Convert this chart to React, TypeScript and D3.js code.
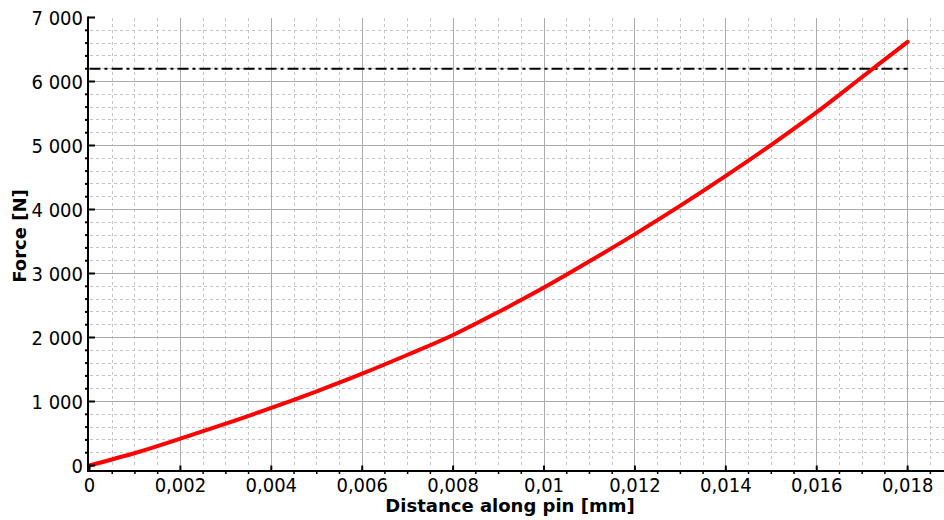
import React from "react";
import * as d3 from "d3";

// Force–displacement response along the pin
const distanceMm = [
  0, 0.001, 0.002, 0.003, 0.004, 0.005, 0.006, 0.007, 0.008, 0.009, 0.01,
  0.011, 0.012, 0.013, 0.014, 0.015, 0.016, 0.017, 0.018,
];
const forceN = [
  0, 195, 420, 655, 900, 1160, 1435, 1730, 2040, 2400, 2780, 3190, 3615,
  4060, 4525, 5010, 5520, 6070, 6620,
];

// Horizontal limit line
const limitForce = 6200;
const limitExtent = [0, 0.018];

// Axis ticks
const xMajorTicks = [0, 0.002, 0.004, 0.006, 0.008, 0.01, 0.012, 0.014, 0.016, 0.018];
const yMajorTicks = [0, 1000, 2000, 3000, 4000, 5000, 6000, 7000];

const W = 944;
const H = 520;
const left = 89.5;
const right = 944;
const top = 17.5;
const bottom = 465.5;
const axisX = 88;
const axisY = 471;

const locale = d3.formatLocale({
  decimal: ",",
  thousands: "\u00a0",
  grouping: [3],
  currency: ["", ""],
});
const fmtX = locale.format("~f");
const fmtY = locale.format(",d");

const tickFont = "'DejaVu Sans Condensed', 'DejaVu Sans', sans-serif";
const titleFont = "'DejaVu Sans', Verdana, sans-serif";

export default function App() {
  const x = d3.scaleLinear().domain([0, 0.0188]).range([left, right]);
  const y = d3.scaleLinear().domain([0, 7000]).range([bottom, top]);

  const xMinor = d3.range(0, 0.0188 + 1e-9, 0.0005).filter(
    (v) => Math.abs(v / 0.002 - Math.round(v / 0.002)) > 1e-6
  );
  const yMinor = d3.range(0, 7000 + 1e-9, 200).filter((v) => v % 1000 !== 0);

  const line = d3
    .line<number>()
    .x((_, i) => x(distanceMm[i]))
    .y((d) => y(d))
    .curve(d3.curveMonotoneX);

  const majorGrid = "#ababab";
  const minorGrid = "#c4c4c4";

  return (
    <div style={{ position: "absolute", left: 0, top: 0 }}>
      <svg width={W} height={H} style={{ display: "block", background: "#fff" }}>
        {/* minor grid */}
        <g stroke={minorGrid} strokeWidth={1} strokeDasharray="3,3" shapeRendering="crispEdges">
          {xMinor.map((v) => (
            <line key={"xm" + v} x1={x(v)} x2={x(v)} y1={top} y2={bottom} />
          ))}
          {yMinor.map((v) => (
            <line key={"ym" + v} x1={left} x2={right} y1={y(v)} y2={y(v)} />
          ))}
        </g>
        {/* major grid */}
        <g stroke={majorGrid} strokeWidth={1} shapeRendering="crispEdges">
          {xMajorTicks.filter((v) => v > 0).map((v) => (
            <line key={"xM" + v} x1={x(v)} x2={x(v)} y1={top} y2={bottom} />
          ))}
          {yMajorTicks.filter((v) => v > 0 && v < 7000).map((v) => (
            <line key={"yM" + v} x1={left} x2={right} y1={y(v)} y2={y(v)} />
          ))}
        </g>

        {/* limit line */}
        <line
          x1={x(limitExtent[0])}
          x2={x(limitExtent[1])}
          y1={y(limitForce)}
          y2={y(limitForce)}
          stroke="#000"
          strokeWidth={2}
          strokeDasharray="11,4,3,4"
        />

        {/* force curve */}
        <path
          d={line(forceN) || ""}
          fill="none"
          stroke="#ff0000"
          strokeWidth={4}
          strokeLinejoin="round"
          strokeLinecap="round"
        />

        {/* axes */}
        <g stroke="#000">
          <line x1={axisX} x2={axisX} y1={top - 1} y2={axisY + 1} strokeWidth={2} />
          <line x1={axisX - 1} x2={W} y1={axisY} y2={axisY} strokeWidth={2} />
          {xMajorTicks.map((v) => (
            <line key={"xt" + v} x1={x(v)} x2={x(v)} y1={bottom} y2={axisY} strokeWidth={2} />
          ))}
          {xMinor.map((v) => (
            <line key={"xmt" + v} x1={x(v)} x2={x(v)} y1={axisY} y2={axisY + 3} strokeWidth={1.5} />
          ))}
          {yMajorTicks.map((v) => (
            <line key={"yt" + v} x1={axisX} x2={axisX + 7} y1={y(v)} y2={y(v)} strokeWidth={2} />
          ))}
          {yMinor.map((v) => (
            <line key={"ymt" + v} x1={axisX - 3} x2={axisX} y1={y(v)} y2={y(v)} strokeWidth={2} />
          ))}
        </g>

        {/* tick labels */}
        <g fontFamily={tickFont} fontSize={20} fill="#000">
          {xMajorTicks.map((v) => (
            <text key={"xl" + v} x={x(v)} y={492} textAnchor="middle">
              {fmtX(v)}
            </text>
          ))}
          {yMajorTicks.map((v) => (
            <text key={"yl" + v} x={83} y={y(v) + 7.5} textAnchor="end">
              {fmtY(v)}
            </text>
          ))}
        </g>

        {/* axis titles */}
        <text
          x={510}
          y={512}
          textAnchor="middle"
          fontFamily={titleFont}
          fontWeight="bold"
          fontSize={18}
        >
          Distance along pin [mm]
        </text>
        <text
          transform="translate(26,236) rotate(-90)"
          textAnchor="middle"
          fontFamily={titleFont}
          fontWeight="bold"
          fontSize={18}
        >
          Force [N]
        </text>
      </svg>
    </div>
  );
}
